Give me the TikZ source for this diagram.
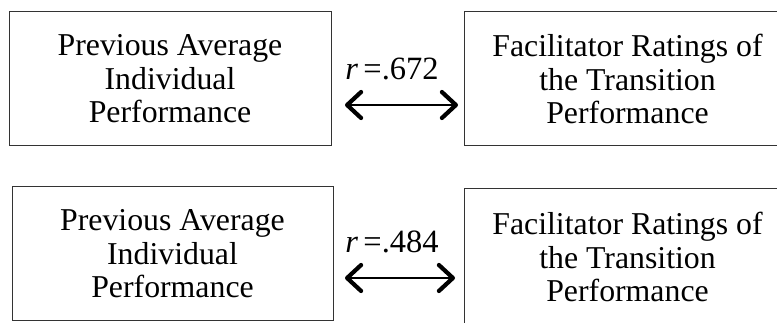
\documentclass[tikz,border=0pt]{standalone}
\usepackage{fontspec}
\setmainfont{Liberation Serif}
\usetikzlibrary{arrows.meta}

\begin{document}
\begin{tikzpicture}[x=1pt, y=-1pt,
        box/.style={draw=black!80, line width=1pt, align=center, inner sep=0pt,
            font=\fontsize{31.8}{33.5}\selectfont},
        lbl/.style={anchor=base, inner sep=0pt, font=\fontsize{32.5}{33}\selectfont},
        corr/.style={line width=2.8pt,
            {Straight Barb[length=14pt,width=26pt,line width=4.2pt 0,round]}-{Straight Barb[length=14pt,width=26pt,line width=4.2pt 0,round]}}]
            \useasboundingbox (0,0) rectangle (777,323);
            % Boxes, labels and arrows:
                \node[box, minimum width=322pt, minimum height=134pt](P1) at (170,79){Previous Average\\Individual\\Performance};
                \node[box, minimum width=327pt, minimum height=134pt](F1) at (627.5,79){Facilitator Ratings of\\the Transition\\Performance};
                \node[box, minimum width=321pt, minimum height=134pt](P2) at (172.5,254){Previous Average\\Individual\\Performance};
                \node[box, minimum width=327pt, minimum height=136pt](F2) at (627.5,257){Facilitator Ratings of\\the Transition\\Performance};
                \node[lbl](R1) at (392,80){\textit{r}\,=.672};
                \node[lbl](R2) at (392,253){\textit{r}\,=.484};
                \draw[corr, shorten <=13.5pt, shorten >=5.5pt] ([yshift=-26pt]P1.east) -- ([yshift=-26pt]P1.east -| F1.west);
                \draw[corr, shorten <=11.5pt, shorten >=8.5pt] ([yshift=-24pt]P2.east) -- ([yshift=-24pt]P2.east -| F2.west);
            \end{tikzpicture}
\end{document}
